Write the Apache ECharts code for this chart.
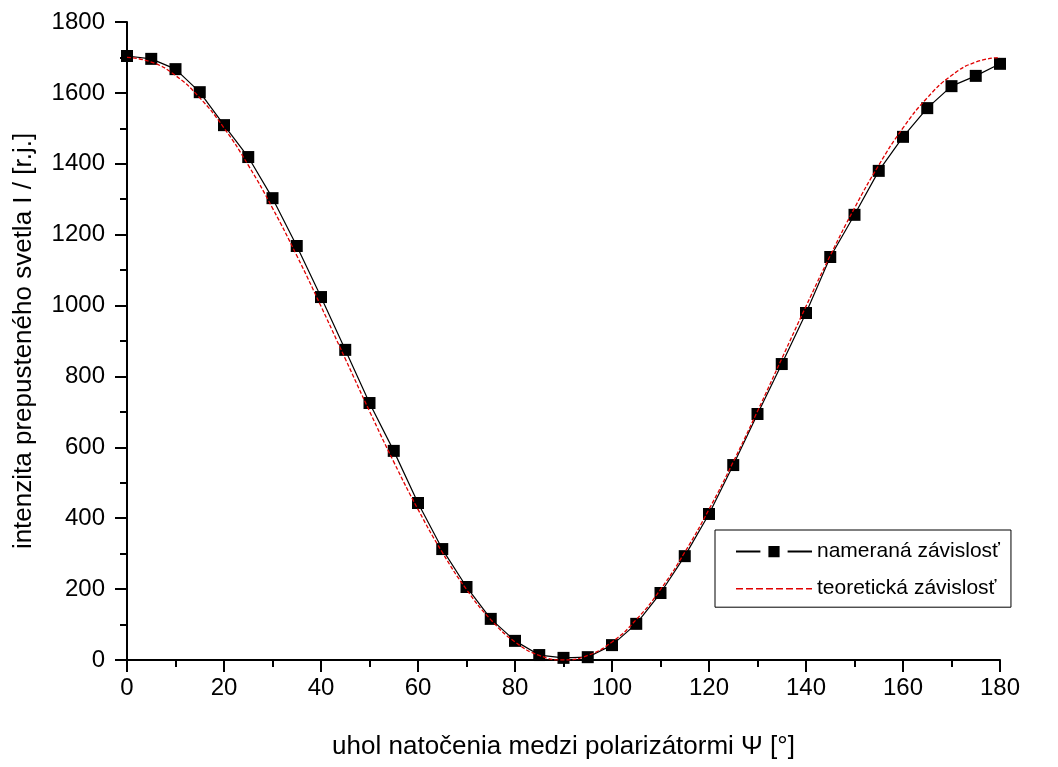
<!DOCTYPE html>
<html>
<head>
<meta charset="utf-8">
<script src="https://cdn.jsdelivr.net/npm/echarts@6/dist/echarts.min.js"></script>
<style>html,body{margin:0;padding:0;background:#fff}#c{width:1058px;height:767px}</style>
</head>
<body>
<div id="c"></div>
<script>
const angles = [0,5,10,15,20,25,30,35,40,45,50,55,60,65,70,75,80,85,90,95,100,105,110,115,120,125,130,135,140,145,150,155,160,165,170,175,180];
const measured = [1704,1696,1667,1602,1509,1419,1303,1168,1024,875,725,590,443,313,206,116,54,14,6,8,42,102,189,293,412,550,694,835,979,1137,1256,1380,1476,1557,1619,1648,1682];
const theoretical = [1700,1687,1649,1586,1501,1396,1275,1141,998,850,702,559,425,304,199,114,51,13,0,13,51,114,199,304,425,559,702,850,998,1141,1275,1396,1501,1586,1649,1687,1700];
const seriesNames = ['nameraná závislosť','teoretická závislosť'];
const xName = 'uhol natočenia medzi polarizátormi Ψ [°]';
const yName = 'intenzita prepusteného svetla I / [r.j.]';

const chart = echarts.init(document.getElementById('c'));
const font = 'Liberation Sans, Arial, sans-serif';
chart.setOption({
  animation: false,
  backgroundColor: '#fff',
  grid: {left: 127, right: 58, top: 22, bottom: 107},
  legend: {
    orient: 'vertical', left: 715, top: 530,
    borderColor: '#000', borderWidth: 1, borderRadius: 0,
    padding: [8, 11, 8, 20],
    itemWidth: 76, itemHeight: 24, itemGap: 13,
    textStyle: {fontFamily: font, fontSize: 21, color: '#000'},
    data: [
      {name: seriesNames[0], itemStyle: {borderColor: '#fff', borderWidth: 8}},
      {name: seriesNames[1], itemStyle: {opacity: 0}, lineStyle: {type: [7, 3], width: 1.5}}
    ]
  },
  xAxis: {
    type: 'value', min: 0, max: 180, interval: 20,
    name: xName, nameLocation: 'middle', nameGap: 74,
    nameTextStyle: {fontFamily: font, fontSize: 26, color: '#000'},
    axisLine: {onZero: false, lineStyle: {color: '#000', width: 2}},
    axisTick: {show: true, inside: false, length: 12, lineStyle: {color: '#000', width: 2}},
    minorTick: {show: true, splitNumber: 2, length: 7, lineStyle: {color: '#000', width: 2}},
    axisLabel: {fontFamily: font, fontSize: 24, color: '#000', margin: 16, formatter: v => String(v)},
    splitLine: {show: false}
  },
  yAxis: {
    type: 'value', min: 0, max: 1800, interval: 200,
    name: yName, nameLocation: 'middle', nameGap: 90, nameRotate: 90,
    nameTextStyle: {fontFamily: font, fontSize: 26, color: '#000'},
    axisLine: {show: true, onZero: false, lineStyle: {color: '#000', width: 2}},
    axisTick: {show: true, inside: false, length: 12, lineStyle: {color: '#000', width: 2}},
    minorTick: {show: true, splitNumber: 2, length: 7, lineStyle: {color: '#000', width: 2}},
    axisLabel: {fontFamily: font, fontSize: 24, color: '#000', margin: 22, formatter: v => String(v)},
    splitLine: {show: false}
  },
  series: [
    {
      name: seriesNames[0], type: 'line', clip: true,
      data: angles.map((a, i) => [a, measured[i]]),
      symbol: 'rect', symbolSize: 12,
      itemStyle: {color: '#000'},
      lineStyle: {color: '#000', width: 1.2},
      z: 3
    },
    {
      name: seriesNames[1], type: 'line', clip: true, smooth: true,
      data: angles.map((a, i) => [a, theoretical[i]]),
      symbol: 'none', showSymbol: false,
      itemStyle: {color: '#e00000'},
      lineStyle: {color: '#e00000', width: 1.3, type: [4, 2]},
      z: 4
    }
  ]
});
</script>
</body>
</html>
